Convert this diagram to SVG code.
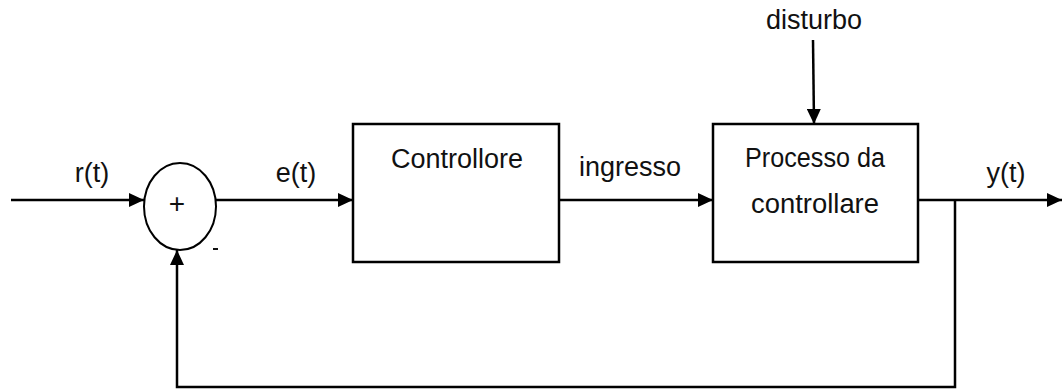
<svg xmlns="http://www.w3.org/2000/svg" width="1062" height="390" viewBox="0 0 1062 390">
  <style>
    .line { fill: none; stroke: #000; stroke-width: 2.5; }
    .box { fill: #fff; stroke: #000; stroke-width: 2.5; }
    .lbl { font-family: "Liberation Sans", Arial, sans-serif; font-size: 27px; fill: #111; }
    .mid { text-anchor: middle; }
    .sign { font-family: "Liberation Sans", Arial, sans-serif; font-size: 28px; fill: #111; text-anchor: middle; }
  </style>
  <defs>
    <marker id="arrow" viewBox="0 0 15 14" refX="15" refY="7" markerWidth="15" markerHeight="14" markerUnits="userSpaceOnUse" orient="auto">
      <path d="M0,0 L15,7 L0,14 Z" fill="#000"/>
    </marker>
  </defs>

  <!-- signal connectors -->
  <g id="connectors">
    <line class="line" x1="11" y1="200" x2="144" y2="200" marker-end="url(#arrow)"/>
    <line class="line" x1="216" y1="200" x2="353" y2="200" marker-end="url(#arrow)"/>
    <line class="line" x1="559" y1="200" x2="713" y2="200" marker-end="url(#arrow)"/>
    <line class="line" x1="813" y1="40" x2="814" y2="124" marker-end="url(#arrow)"/>
    <line class="line" x1="918" y1="200" x2="1062" y2="200" marker-end="url(#arrow)"/>
    <polyline class="line" points="955,200 955,387 177,387 177,250" marker-end="url(#arrow)"/>
  </g>

  <!-- summing junction -->
  <g id="sum">
    <ellipse cx="180" cy="206.5" rx="36" ry="43.5" fill="#fff" stroke="#000" stroke-width="2"/>
    <text class="sign" x="177" y="213">+</text>
    <rect x="213" y="248" width="5" height="2" fill="#111"/>
  </g>

  <g id="controllore">
    <rect class="box" x="353" y="124" width="206" height="138"/>
    <text class="lbl mid" x="457" y="168">Controllore</text>
  </g>

  <g id="processo">
    <rect class="box" x="713" y="124" width="205" height="138"/>
    <text class="lbl mid" x="815" y="167" textLength="140" lengthAdjust="spacingAndGlyphs">Processo da</text>
    <text class="lbl mid" x="815" y="213" textLength="128" lengthAdjust="spacingAndGlyphs">controllare</text>
  </g>

  <!-- signal labels -->
  <g id="labels">
    <text class="lbl mid" x="92" y="182">r(t)</text>
    <text class="lbl mid" x="296" y="182">e(t)</text>
    <text class="lbl mid" x="630" y="176">ingresso</text>
    <text class="lbl mid" x="814" y="29">disturbo</text>
    <text class="lbl mid" x="1006" y="182">y(t)</text>
  </g>
</svg>
